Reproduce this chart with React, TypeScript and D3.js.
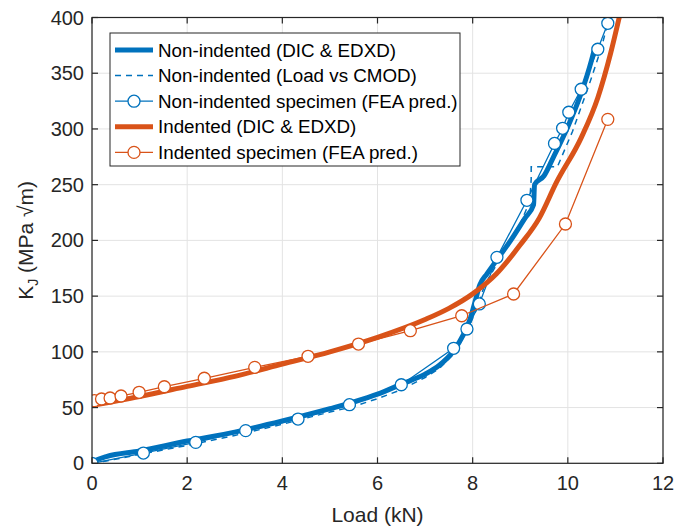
import React from "react";
import * as d3 from "d3";

const xTicks = [0, 2, 4, 6, 8, 10, 12];
const yTicks = [0, 50, 100, 150, 200, 250, 300, 350, 400];

const nonIndentedDIC: [number, number][] = [
  [0, 0], [0.1, 3], [0.3, 6], [1, 11], [2, 20], [3, 28], [4, 38], [5, 49], [5.5, 55],
  [6, 62], [6.5, 71], [7, 80], [7.3, 88], [7.6, 101], [7.8, 115], [7.95, 130], [8.05, 145],
  [8.15, 160], [8.3, 170], [8.5, 182], [8.8, 200], [9.1, 220], [9.28, 232], [9.3, 250],
  [9.5, 258], [9.7, 275], [10.0, 302], [10.28, 332], [10.5, 362], [10.58, 375],
];

const nonIndentedCMOD: [number, number][] = [
  [0, 0], [0.3, 2], [1, 8], [2, 16], [3, 25], [4, 35], [5, 46], [5.5, 51], [6, 58],
  [6.5, 66], [7, 77], [7.3, 85], [7.6, 98], [7.9, 120], [8.1, 140], [8.25, 160], [8.5, 178],
  [8.8, 200], [9.0, 215], [9.2, 235], [9.23, 255], [9.23, 266], [9.78, 266], [10.1, 298],
  [10.45, 340], [10.7, 372], [10.84, 395],
];

const nonIndentedFEA: [number, number][] = [
  [0, 0], [1.08, 9.2], [2.18, 18.8], [3.23, 29.3], [4.33, 39.7], [5.41, 52.6], [6.5, 70.5],
  [7.6, 103.2], [7.88, 120.5], [8.14, 143], [8.51, 184.8], [9.14, 236], [9.72, 287],
  [9.89, 300.6], [10.02, 315], [10.28, 335.6], [10.63, 371.5], [10.84, 394.8],
];

const indentedDIC: [number, number][] = [
  [0, 52], [1, 60], [2, 69], [3, 78], [4, 89], [5, 100], [6, 113], [7, 129],
  [7.5, 139], [8, 152], [8.5, 170], [9, 196], [9.4, 220], [9.76, 252], [10.28, 292],
  [10.63, 328], [10.9, 368], [11.08, 400],
];

const indentedFEA: [number, number][] = [
  [0.05, 56.2], [0.2, 57.7], [0.38, 58.6], [0.61, 60.4], [0.99, 63.7], [1.52, 68.7],
  [2.36, 76.3], [3.42, 86.1], [4.54, 96], [5.6, 107], [6.69, 119], [7.77, 132.4],
  [8.86, 151.9], [9.95, 214.7], [10.84, 308.6],
];

const legendLabels = [
  "Non-indented (DIC & EDXD)",
  "Non-indented (Load vs CMOD)",
  "Non-indented specimen (FEA pred.)",
  "Indented (DIC & EDXD)",
  "Indented specimen (FEA pred.)",
];

const BLUE = "#0072BD";
const ORANGE = "#D95319";
const AXIS = "#262626";
const FONT = "'Liberation Sans', Arial, sans-serif";

export default function App() {
  const L = 92, R = 663, T = 17.5, B = 463.3;
  const x = d3.scaleLinear().domain([0, 12]).range([L, R]);
  const y = d3.scaleLinear().domain([0, 400]).range([B, T]);
  const line = d3.line<[number, number]>().x((d) => x(d[0])).y((d) => y(d[1]));
  const smooth = d3
    .line<[number, number]>()
    .x((d) => x(d[0]))
    .y((d) => y(d[1]))
    .curve(d3.curveMonotoneX);

  const legendItems = [
    { label: legendLabels[0], color: BLUE, w: 5, dash: undefined, marker: false },
    { label: legendLabels[1], color: BLUE, w: 1.5, dash: "6,5", marker: false },
    { label: legendLabels[2], color: BLUE, w: 1.3, dash: undefined, marker: true },
    { label: legendLabels[3], color: ORANGE, w: 5, dash: undefined, marker: false },
    { label: legendLabels[4], color: ORANGE, w: 1.3, dash: undefined, marker: true },
  ];

  return (
    <svg
      width={675}
      height={528}
      style={{ position: "absolute", left: 0, top: 0, background: "#fff" }}
      fontFamily={FONT}
    >
      <defs>
        <clipPath id="plot">
          <rect x={L} y={T} width={R - L} height={B - T} />
        </clipPath>
      </defs>
      <rect x={L} y={T} width={R - L} height={B - T} fill="#fff" />
      {xTicks.map((t) => (
        <line key={"gx" + t} x1={x(t)} x2={x(t)} y1={T} y2={B} stroke="#e3e3e3" strokeWidth={1} />
      ))}
      {yTicks.map((t) => (
        <line key={"gy" + t} x1={L} x2={R} y1={y(t)} y2={y(t)} stroke="#e3e3e3" strokeWidth={1} />
      ))}
      <g clipPath="url(#plot)">
        <path d={smooth(nonIndentedDIC) || ""} fill="none" stroke={BLUE} strokeWidth={5} strokeLinejoin="round" />
        <path d={line(nonIndentedCMOD) || ""} fill="none" stroke={BLUE} strokeWidth={1.5} strokeDasharray="6,5" />
        <path d={line(nonIndentedFEA) || ""} fill="none" stroke={BLUE} strokeWidth={1.3} />
        {nonIndentedFEA.map((d, i) => (
          <circle key={"bf" + i} cx={x(d[0])} cy={y(d[1])} r={6} fill="#fff" stroke={BLUE} strokeWidth={1.3} />
        ))}
        <path d={smooth(indentedDIC) || ""} fill="none" stroke={ORANGE} strokeWidth={5} strokeLinejoin="round" />
        <path d={line(indentedFEA) || ""} fill="none" stroke={ORANGE} strokeWidth={1.3} />
        {indentedFEA.map((d, i) => (
          <circle key={"of" + i} cx={x(d[0])} cy={y(d[1])} r={6} fill="#fff" stroke={ORANGE} strokeWidth={1.3} />
        ))}
      </g>
      <rect x={L} y={T} width={R - L} height={B - T} fill="none" stroke={AXIS} strokeWidth={1.2} />
      {xTicks.map((t) => (
        <g key={"tx" + t}>
          <line x1={x(t)} x2={x(t)} y1={B} y2={B - 6} stroke={AXIS} strokeWidth={1.2} />
          <line x1={x(t)} x2={x(t)} y1={T} y2={T + 6} stroke={AXIS} strokeWidth={1.2} />
          <text x={x(t)} y={B + 27} textAnchor="middle" fontSize={20} fill={AXIS}>{t}</text>
        </g>
      ))}
      {yTicks.map((t) => (
        <g key={"ty" + t}>
          <line x1={L} x2={L + 6} y1={y(t)} y2={y(t)} stroke={AXIS} strokeWidth={1.2} />
          <line x1={R} x2={R - 6} y1={y(t)} y2={y(t)} stroke={AXIS} strokeWidth={1.2} />
          <text x={L - 8} y={y(t) + 7} textAnchor="end" fontSize={20} fill={AXIS}>{t}</text>
        </g>
      ))}
      <text x={(L + R) / 2} y={522} textAnchor="middle" fontSize={21} fill={AXIS}>Load (kN)</text>
      <text transform={`translate(33, ${(T + B) / 2}) rotate(-90)`} textAnchor="middle" fontSize={21} fill={AXIS}>
        K<tspan fontSize={14} dy={5}>J</tspan><tspan dy={-5}> (MPa √m)</tspan>
      </text>
      <rect x={110} y={33} width={350} height={133} fill="#fff" stroke={AXIS} strokeWidth={1} />
      {legendItems.map((it, i) => {
        const ly = 50 + i * 25.6;
        return (
          <g key={"lg" + i}>
            <line x1={115} x2={153} y1={ly} y2={ly} stroke={it.color} strokeWidth={it.w} strokeDasharray={it.dash} />
            {it.marker && <circle cx={134} cy={ly} r={6} fill="#fff" stroke={it.color} strokeWidth={1.3} />}
            <text x={158} y={ly + 6.5} fontSize={18.8} fill="#000">{it.label}</text>
          </g>
        );
      })}
    </svg>
  );
}
